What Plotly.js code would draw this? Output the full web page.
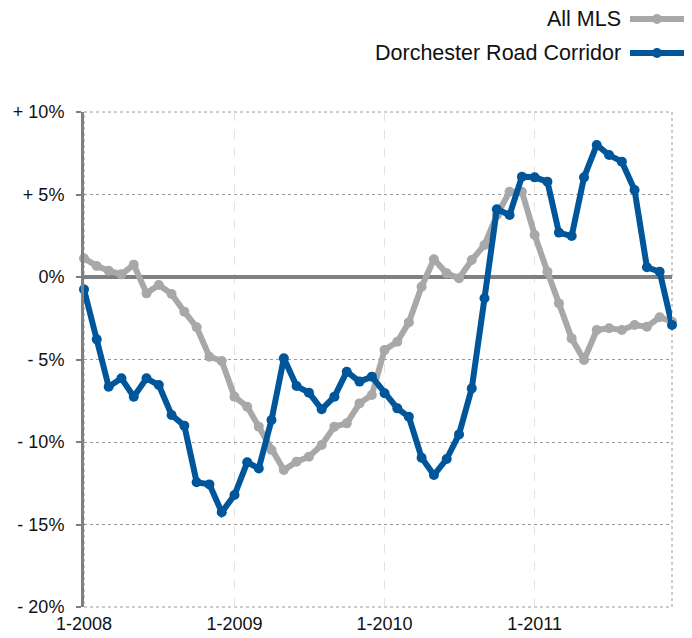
<!DOCTYPE html>
<html>
<head>
<meta charset="utf-8">
<script src="https://cdn.plot.ly/plotly-3.0.1.min.js"></script>
<style>html,body{margin:0;padding:0;background:#fff;}#chart{width:692px;height:638px;}</style>
</head>
<body>
<div id="chart"></div>
<script>
// Data (percent change), monthly Jan 2008 – Dec 2011
var years = [2008, 2009, 2010, 2011];
var allMLS = [
  1.13, 0.67, 0.38, 0.16, 0.75, -0.99, -0.48, -1.03, -2.10, -3.05, -4.83, -5.09,
  -7.25, -7.86, -9.07, -10.48, -11.70, -11.19, -10.89, -10.18, -9.07, -8.87, -7.66, -7.15,
  -4.42, -3.92, -2.75, -0.59, 1.07, 0.22, -0.08, 1.03, 1.94, 3.76, 5.17, 5.17,
  2.55, 0.32, -1.60, -3.72, -5.03, -3.21, -3.11, -3.21, -2.91, -3.01, -2.44, -2.71
];
var dorchester = [
  -0.75, -3.78, -6.65, -6.14, -7.25, -6.14, -6.55, -8.36, -9.01, -12.44, -12.57, -14.26,
  -13.21, -11.23, -11.60, -8.67, -4.93, -6.61, -7.01, -8.02, -7.25, -5.74, -6.34, -6.04,
  -7.05, -7.96, -8.47, -10.95, -12.00, -11.03, -9.54, -6.75, -1.29, 4.10, 3.76, 6.08,
  6.04, 5.78, 2.69, 2.48, 6.04, 8.00, 7.39, 6.99, 5.27, 0.59, 0.32, -2.91
];
var yTickVals = [10, 5, 0, -5, -10, -15, -20];
var yTickText = ['+ 10%', '+ 5%', '0%', '- 5%', '- 10%', '- 15%', '- 20%'];
var xTickText = ['1-2008', '1-2009', '1-2010', '1-2011'];
var seriesNames = ['All MLS', 'Dorchester Road Corridor'];

var dates = [];
years.forEach(function (y) {
  for (var m = 1; m <= 12; m++) dates.push(y + '-' + (m < 10 ? '0' + m : m) + '-01');
});
var xTickVals = years.map(function (y) { return y + '-01-01'; });

var grey = '#a8a8a8', blue = '#00569a';
var font = 'Liberation Sans, Arial, Helvetica, sans-serif';

var traces = [
  {x: dates, y: allMLS, name: seriesNames[0], mode: 'lines+markers',
   line: {color: grey, width: 6}, marker: {color: grey, size: 10}, cliponaxis: false},
  {x: dates, y: dorchester, name: seriesNames[1], mode: 'lines+markers',
   line: {color: blue, width: 6}, marker: {color: blue, size: 10}, cliponaxis: false}
];

// Paper coordinate helpers for legend placement (plot area 84..672 x 112..607)
function px(p) { return (p - 84) / 588; }
function py(q) { return (607 - q) / 495; }

var legendRows = [{q: 19, c: grey}, {q: 53, c: blue}];
var shapes = [
  {type: 'rect', xref: 'paper', yref: 'paper', x0: 0, x1: 1, y0: 0, y1: 1,
   line: {color: '#9a9a9a', width: 1, dash: 'dot'}, layer: 'below'}
];
var annotations = [];
legendRows.forEach(function (r, i) {
  shapes.push({type: 'line', xref: 'paper', yref: 'paper', x0: px(630), x1: px(684),
    y0: py(r.q), y1: py(r.q), line: {color: r.c, width: 6}});
  shapes.push({type: 'circle', xref: 'paper', yref: 'paper', x0: px(652), x1: px(662),
    y0: py(r.q + 5), y1: py(r.q - 5), fillcolor: r.c, line: {color: r.c, width: 0}});
  annotations.push({xref: 'paper', yref: 'paper', x: px(623), y: py(r.q), xanchor: 'right',
    yanchor: 'middle', text: seriesNames[i], showarrow: false,
    font: {family: font, size: 21.5, color: '#111'}});
});

var layout = {
  width: 692, height: 638,
  margin: {l: 84, r: 20, t: 112, b: 31, pad: 0},
  paper_bgcolor: '#fff', plot_bgcolor: '#fff',
  showlegend: false,
  font: {family: font, size: 18, color: '#111'},
  xaxis: {
    type: 'date', range: ['2008-01-01', '2011-12-01'],
    tickvals: xTickVals, ticktext: xTickText, ticks: '',
    showgrid: true, gridcolor: '#e2e2e2', gridwidth: 1, griddash: 'dash',
    showline: false, zeroline: false, tickfont: {size: 18},
    ticklabelstandoff: 4
  },
  yaxis: {
    range: [-20, 10], tickvals: yTickVals, ticktext: yTickText,
    ticks: 'outside', ticklen: 5, tickwidth: 2, tickcolor: '#808080',
    showgrid: true, gridcolor: '#9a9a9a', gridwidth: 1, griddash: 'dot',
    showline: true, linecolor: '#808080', linewidth: 3,
    zeroline: true, zerolinecolor: '#808080', zerolinewidth: 4,
    ticklabelstandoff: 8, tickfont: {size: 18}
  },
  shapes: shapes,
  annotations: annotations
};

Plotly.newPlot('chart', traces, layout, {displayModeBar: false, staticPlot: true});
</script>
</body>
</html>
